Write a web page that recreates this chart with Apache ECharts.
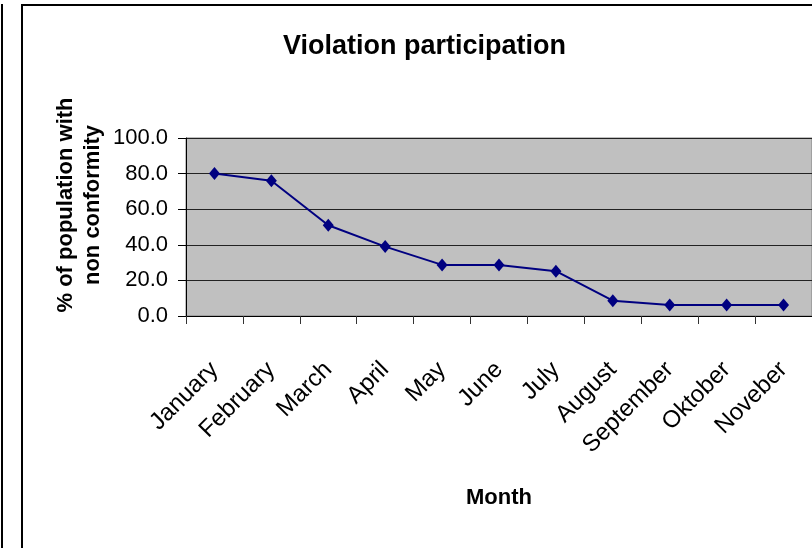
<!DOCTYPE html>
<html>
<head>
<meta charset="utf-8">
<script src="https://cdn.jsdelivr.net/npm/echarts@6/dist/echarts.min.js"></script>
<style>
  html, body { margin: 0; padding: 0; background: #fff; }
  #chart { width: 812px; height: 548px; }
</style>
</head>
<body>
<div id="chart"></div>
<script>
// month labels and share of population with non conformity (%)
const months = ['January', 'February', 'March', 'April', 'May', 'June', 'July', 'August', 'September', 'Oktober', 'Noveber']
const violations = [80.0, 76.0, 51.0, 39.0, 28.7, 28.7, 25.2, 8.6, 6.2, 6.2, 6.2]

const myChart = echarts.init(document.getElementById('chart'))
const font = 'Liberation Sans, Arial, sans-serif'

const option = {
  backgroundColor: '#fff',
  animation: false,
  title: {
    text: 'Violation participation',
    left: 283,
    top: 33,
    padding: 0,
    textStyle: { color: '#000', fontSize: 27, fontWeight: 'bold', fontFamily: font }
  },
  graphic: [
    // frame of the chart area, cut off at the right and bottom
    { type: 'rect', shape: { x: 22, y: 5, width: 820, height: 560 }, style: { fill: null, stroke: '#000', lineWidth: 2 }, silent: true },
    { type: 'line', shape: { x1: 2, y1: 4, x2: 2, y2: 548 }, style: { stroke: '#000', lineWidth: 2 }, silent: true }
  ],
  grid: {
    left: 186,
    top: 138,
    right: -1,
    bottom: 232,
    show: true,
    backgroundColor: '#c0c0c0',
    borderColor: '#808080',
    borderWidth: 1
  },
  xAxis: {
    type: 'category',
    data: months,
    boundaryGap: true,
    name: 'Month',
    nameLocation: 'middle',
    nameGap: 171,
    nameMoveOverlap: false,
    nameTextStyle: { color: '#000', fontSize: 22, fontWeight: 'bold', fontFamily: font },
    axisLine: { lineStyle: { color: '#000', width: 1 } },
    axisTick: { show: true, length: 8, alignWithLabel: false, lineStyle: { color: '#333' } },
    axisLabel: { rotate: 45, margin: 50, color: '#000', fontSize: 24, fontFamily: font, interval: 0 }
  },
  yAxis: {
    type: 'value',
    min: 0,
    max: 100,
    interval: 20,
    name: '% of population with\nnon conformity',
    nameLocation: 'middle',
    nameGap: 80,
    nameRotate: 90,
    nameMoveOverlap: false,
    nameTextStyle: { color: '#000', fontSize: 22, fontWeight: 'bold', fontFamily: font, lineHeight: 27, padding: [0, 0, 0, 44] },
    axisLine: { show: true, lineStyle: { color: '#000', width: 1 } },
    axisTick: { show: true, length: 8, lineStyle: { color: '#000' } },
    axisLabel: { margin: 18, color: '#000', fontSize: 22, fontFamily: font, formatter: v => v.toFixed(1) },
    splitLine: { lineStyle: { color: '#222', width: 1 } }
  },
  series: [
    {
      name: 'Violation participation',
      type: 'line',
      data: violations,
      symbol: 'diamond',
      symbolSize: [11, 13],
      lineStyle: { color: '#000080', width: 2 },
      itemStyle: { color: '#000080' }
    }
  ]
}

myChart.setOption(option)
</script>
</body>
</html>
